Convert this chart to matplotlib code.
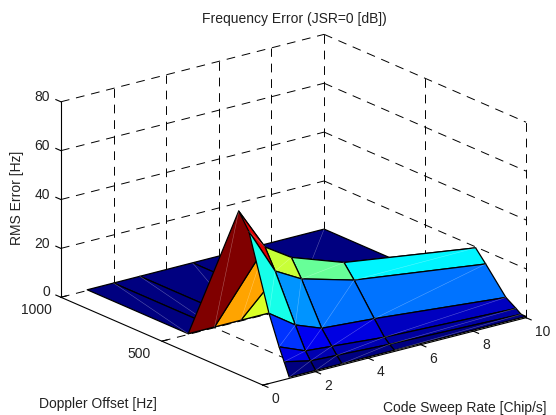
import numpy as np
import matplotlib
matplotlib.use('Agg')
import matplotlib.pyplot as plt
from matplotlib.colors import LinearSegmentedColormap
from mpl_toolkits.mplot3d import proj3d

plt.rcParams['font.family'] = ['Liberation Sans', 'DejaVu Sans']

# Grid of the surface
sweep_rate = [1, 2, 3, 5, 10]
doppler = [0, 25, 50, 100, 200, 250, 500, 1000]
# one row per doppler value, one column per sweep rate
rms_0 = [0.5, 0.5, 0.5, 0.5, 0.5]
rms_25 = [5.9, 3.5, 3.0, 2.0, 0.5]
rms_50 = [11.1, 6.7, 5.8, 4.0, 2.0]
rms_100 = [23.0, 15.5, 11.4, 9.8, 4.7]
rms_200 = [53.0, 34.0, 28.0, 22.0, 14.8]
rms_250 = [59.5, 42.0, 35.0, 27.4, 19.6]
rms_500 = [0.3, 0.3, 0.3, 0.3, 0.3]
rms_1000 = [0.3, 0.3, 0.3, 0.3, 0.3]
# colour values of the 100 Hz row read a little above its height
colour_100 = [24.0, 16.5, 14.0, 14.0, 4.7]

x_ticks = [0, 2, 4, 6, 8, 10]
y_ticks = [0, 500, 1000]
z_ticks = [0, 20, 40, 60, 80]

W, H = 556, 415
S = 395  # axes side in pixels
ZOOM = 498 / S
cx, cy = 293.5, 205.25  # pixel position of the box centre (from bottom)
FS = 10
TXT = '#222222'

fig = plt.figure(figsize=(W / 100, H / 100), dpi=100)
left = cx - 0.5135 * S
bottom = cy - 0.5135 * S
ax = fig.add_axes([left / W, bottom / H, S / W, S / H], projection='3d', computed_zorder=False)
ax.set_proj_type('ortho')
ax.view_init(elev=19.5, azim=-127.5)
ax.set_box_aspect((336, 336, 210), zoom=ZOOM)
ax.set_xlim(0, 10, view_margin=0)
ax.set_ylim(0, 1000, view_margin=0)
ax.set_zlim(0, 80, view_margin=0)
ax.set_xticks([])
ax.set_yticks([])
ax.set_zticks([])
ax.set_axis_off()


def dashed(xs, ys, zs):
    ax.plot(xs, ys, zs, color='black', lw=0.7, ls=(0, (9, 7)), zorder=1, clip_on=False)


def solid(xs, ys, zs):
    ax.plot(xs, ys, zs, color='black', lw=0.8, zorder=9, clip_on=False)


def label(x, y, z, s, ha):
    # plain figure text at the projected position of a 3d point
    px, py, _ = proj3d.proj_transform(x, y, z, ax.get_proj())
    u, v = ax.transData.transform((px, py))
    fig.text(u / W, v / H, s, ha=ha, va='center', fontsize=FS, color=TXT)


# walls and floor grid
for z in z_ticks:
    dashed([0, 10], [1000, 1000], [z, z])
    dashed([10, 10], [1000, 0], [z, z])
for x in x_ticks[1:]:
    dashed([x, x], [1000, 1000], [0, 80])
    if x < 10:
        dashed([x, x], [0, 1000], [0, 0])
for y in y_ticks[:-1]:
    dashed([10, 10], [y, y], [0, 80])
dashed([0, 10], [500, 500], [0, 0])

# the surface, coloured like a flat shaded surf: each cell takes its first corner
X, Y = np.meshgrid(sweep_rate, doppler)
Z = np.array([rms_0, rms_25, rms_50, rms_100, rms_200, rms_250, rms_500, rms_1000])
C = Z.copy()
C[3] = colour_100
# matlab's jet, matplotlib's has no pure cyan
jet = LinearSegmentedColormap.from_list('matlab_jet', [
    (0, (0, 0, 0.5)), (0.125, (0, 0, 1)), (0.375, (0, 1, 1)),
    (0.625, (1, 1, 0)), (0.875, (1, 0, 0)), (1, (0.5, 0, 0))], N=64)
colors = jet(C / C.max())


def draw_rows(r0, r1, zorder):
    # drawn back to front so the thin cell diagonals get hidden by what lies ahead
    surf = ax.plot_surface(X[r0:r1 + 1], Y[r0:r1 + 1], Z[r0:r1 + 1], rstride=1, cstride=1,
                           facecolors=colors[r0:r1 + 1], shade=False, edgecolor='black',
                           linewidth=0.9, zorder=zorder)
    surf.set_clip_on(False)
    for i in range(r0, r1):
        for j in range(len(sweep_rate) - 1):
            ax.plot([X[i, j], X[i + 1, j + 1]], [Y[i, j], Y[i + 1, j + 1]], [Z[i, j], Z[i + 1, j + 1]],
                    color='white', alpha=0.35, lw=0.4, zorder=zorder + 0.1, clip_on=False)


draw_rows(6, 7, 2)
draw_rows(5, 6, 3)
draw_rows(0, 5, 4)

# box edges in front
solid([0, 10], [0, 0], [0, 0])
solid([0, 0], [0, 1000], [0, 0])
solid([0, 0], [1000, 1000], [0, 80])

# projection is only settled after a first draw
fig.canvas.draw()

# ticks and labels
for x in x_ticks:
    solid([x, x], [0, -25], [0, 0])
    label(x, -42, -4.3, str(x), 'left')
for y in y_ticks:
    solid([0, 0.2], [y, y], [0, 0])
for z in z_ticks:
    solid([0, 0], [1000, 1025], [z, z])
    label(0, 1055, z, str(z), 'right')
label(-0.43, 500, -4.2, '500', 'right')
label(-0.35, 1000, -4.2, '1000', 'right')

fig.text(294 / W, 1 - 19.5 / H, 'Frequency Error (JSR=0 [dB])', ha='center', va='center', fontsize=FS, color=TXT)
fig.text(17 / W, 1 - 198 / H, 'RMS Error [Hz]', rotation=90, ha='center', va='center', fontsize=FS, color=TXT)
fig.text(98 / W, 1 - 404 / H, 'Doppler Offset [Hz]', ha='center', va='center', fontsize=FS, color=TXT)
fig.text(465 / W, 1 - 408 / H, 'Code Sweep Rate [Chip/s]', ha='center', va='center', fontsize=FS, color=TXT)

fig.savefig('out.png', dpi=100)
